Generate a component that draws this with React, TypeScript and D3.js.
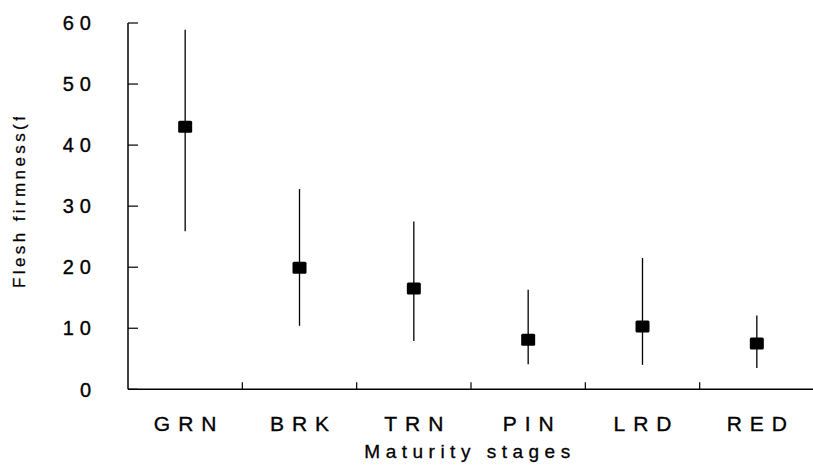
import React from "react";
import * as d3 from "d3";

const stages = ["GRN", "BRK", "TRN", "PIN", "LRD", "RED"];
const means = [43.0, 19.9, 16.5, 8.1, 10.3, 7.5];
const upper = [58.9, 32.8, 27.5, 16.3, 21.5, 12.1];
const lower = [25.9, 10.4, 7.9, 4.1, 4.0, 3.5];
const yTicks = [0, 10, 20, 30, 40, 50, 60];

const width = 813;
const height = 468;
const left = 128;
const right = 814;
const top = 23;
const bottom = 389.3;
const font = "'Liberation Sans', Arial, Helvetica, sans-serif";

const App = () => {
  const x = d3.scaleBand<string>().domain(stages).range([left, right]).padding(0);
  const y = d3.scaleLinear().domain([0, 60]).range([bottom, top]);
  const bw = x.bandwidth();

  return (
    <svg
      width={width}
      height={height}
      viewBox={`0 0 ${width} ${height}`}
      style={{ position: "fixed", left: 0, top: 0, background: "#fff" }}
    >
      <defs>
        <clipPath id="ytitle-clip">
          <rect x={0} y={117} width={60} height={300} />
        </clipPath>
      </defs>

      {/* axes */}
      <line x1={left} x2={left} y1={y(60)} y2={y(0)} stroke="#000" strokeWidth={1.5} />
      <line x1={left} x2={right} y1={y(0)} y2={y(0)} stroke="#000" strokeWidth={1.5} />

      {yTicks.map(t => (
        <g key={t}>
          <line x1={left} x2={left + 10} y1={y(t)} y2={y(t)} stroke="#000" strokeWidth={1.2} />
          <text
            x={97}
            y={y(t)}
            dy="0.36em"
            textAnchor="end"
            fontFamily={font}
            fontSize={20}
            letterSpacing={6}
            fill="#000"
            stroke="#000"
            strokeWidth={0.35}
          >
            {t}
          </text>
        </g>
      ))}

      {stages.slice(1).map(s => (
        <line key={s} x1={x(s)} x2={x(s)} y1={y(0)} y2={y(0) - 7} stroke="#000" strokeWidth={1.2} />
      ))}

      {stages.map(s => (
        <text
          key={s}
          x={(x(s) as number) + bw / 2 + 4}
          y={431}
          textAnchor="middle"
          fontFamily={font}
          fontSize={21}
          letterSpacing={8}
          fill="#000"
          stroke="#000"
          strokeWidth={0.35}
        >
          {s}
        </text>
      ))}

      {/* error bars and means */}
      {stages.map((s, i) => {
        const cx = (x(s) as number) + bw / 2;
        return (
          <g key={s}>
            <line x1={cx} x2={cx} y1={y(upper[i])} y2={y(lower[i])} stroke="#000" strokeWidth={1.3} />
            <rect x={cx - 7} y={y(means[i]) - 6} width={14} height={12} rx={1.5} fill="#000" />
          </g>
        );
      })}

      {/* axis titles */}
      <text
        x={470}
        y={458}
        textAnchor="middle"
        fontFamily={font}
        fontSize={19}
        letterSpacing={5.5}
        fill="#000"
        stroke="#000"
        strokeWidth={0.3}
      >
        Maturity stages
      </text>
      <g clipPath="url(#ytitle-clip)">
        <text
          transform="translate(25,288) rotate(-90)"
          textAnchor="start"
          fontFamily={font}
          fontSize={17}
          letterSpacing={3.4}
          fill="#000"
          stroke="#000"
          strokeWidth={0.25}
        >
          Flesh firmness(f
        </text>
      </g>
    </svg>
  );
};

export default App;
